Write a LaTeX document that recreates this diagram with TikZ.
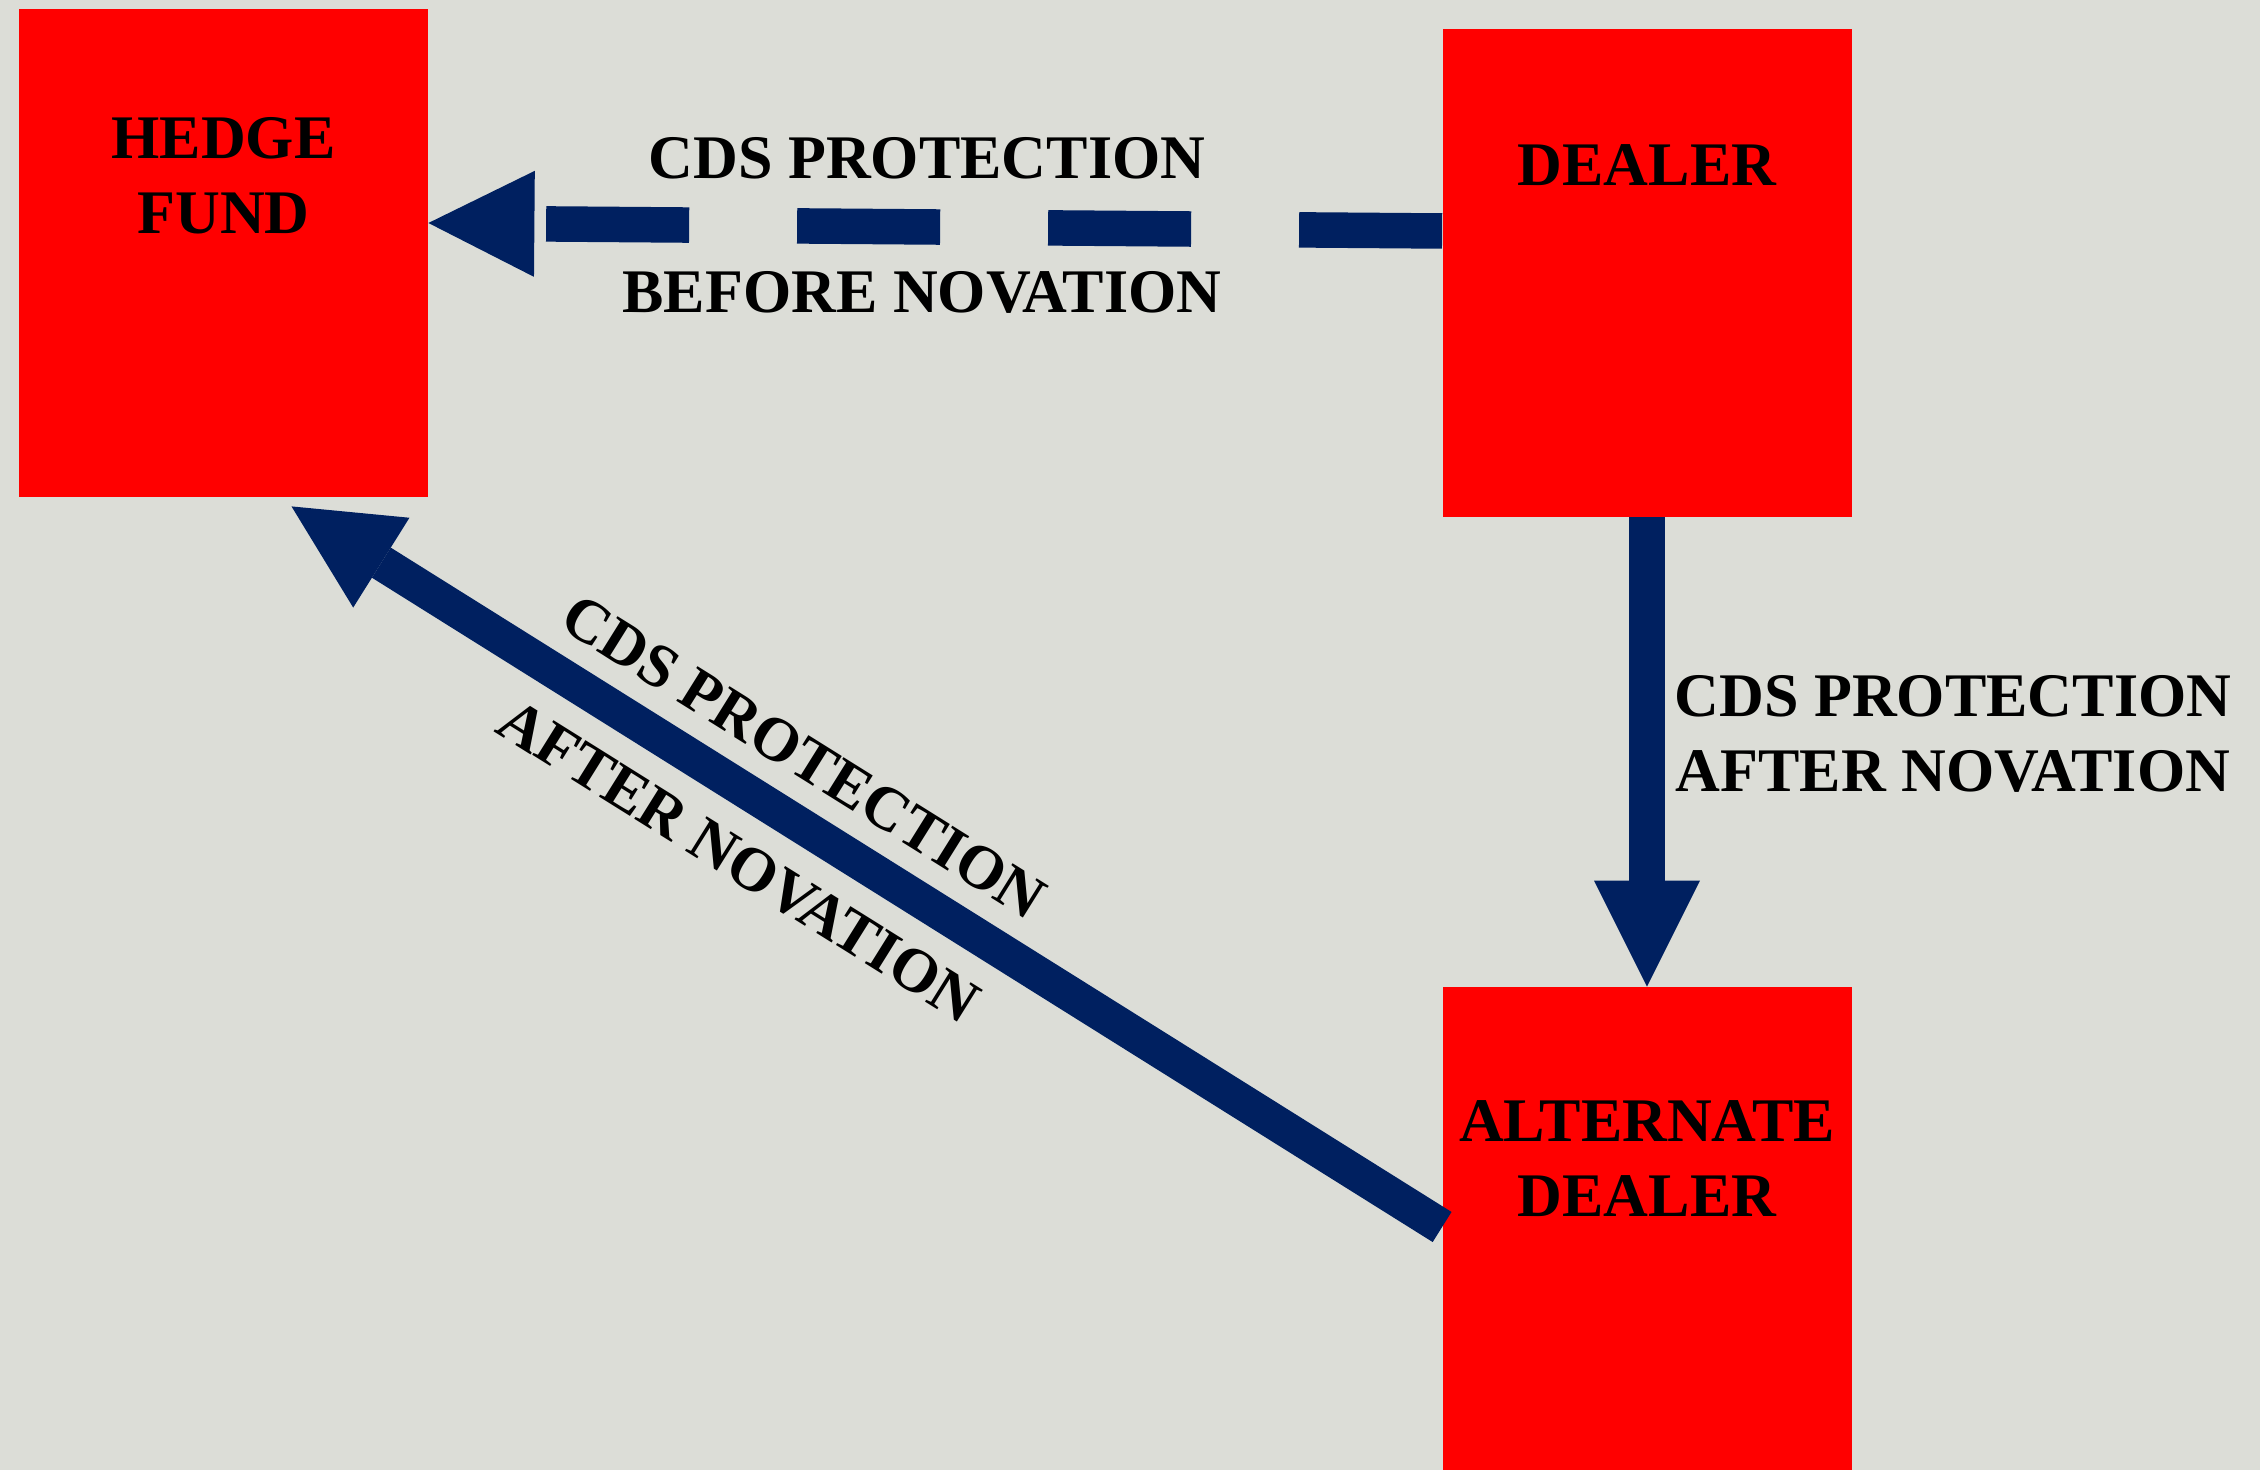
\documentclass[tikz,border=0pt]{standalone}
\usepackage{fontspec}
\setmainfont{Liberation Serif}
\usetikzlibrary{arrows.meta,calc}
\definecolor{bg}{HTML}{DCDDD7}
\definecolor{boxred}{HTML}{FF0000}
\definecolor{navy}{HTML}{002060}
\newcommand{\twoline}[2]{\begin{tabular}[t]{@{}c@{}}#1\\#2\end{tabular}}
\begin{document}
\begin{tikzpicture}[x=0.5pt,y=-0.5pt,
  party/.style={fill=boxred, draw=none, inner sep=0pt, minimum width=204.5pt, minimum height=244pt},
  lbl/.style={font=\fontsize{31}{37.5}\selectfont\bfseries, text=black, inner sep=0pt, anchor=base},
  flow/.style={draw=navy, line width=17.75pt, line cap=butt, -{Triangle[length=53pt,width=53pt,line width=0pt]}},
  dashflow/.style={flow, dash pattern=on 71.5pt off 54pt}]
\useasboundingbox (0,0) rectangle (2260,1470);
\fill[bg] (0,0) rectangle (2260,1470);
\clip (0,0) rectangle (2260,1470);
% parties
\node[party] (hf) at (223.5,253) {};
\node[party] (dl) at (1647,273) {};
\node[party] (ad) at (1647,1231) {};
\node[lbl] (hft) at ($(hf.north)+(0,150)$) {\twoline{HEDGE}{FUND}};
\node[lbl] (dlt) at ($(dl.north)+(0,157)$) {DEALER};
\node[lbl] (adt) at ($(ad.north)+(0,155)$) {\twoline{ALTERNATE}{DEALER}};
% connectors
\draw[dashflow] ($(dl.west)+(0,-42)$) -- ($(hf.east)+(0,-30)$);
\draw[flow] (dl.south) -- (ad.north);
\draw[flow] ($(ad.west)+(0,-4)$) -- ($(hf.south)+(68,9)$);
% labels
\node[lbl] (l1a) at (927,179) {CDS PROTECTION};
\node[lbl] (l1b) at (922,313) {BEFORE NOVATION};
\node[lbl] (l2) at (1953,717) {\twoline{CDS PROTECTION}{AFTER NOVATION}};
\node[lbl, rotate=-32] (l3a) at (793,774) {CDS PROTECTION};
\node[lbl, rotate=-32] (l3b) at (728,878) {AFTER NOVATION};
\end{tikzpicture}
\end{document}
